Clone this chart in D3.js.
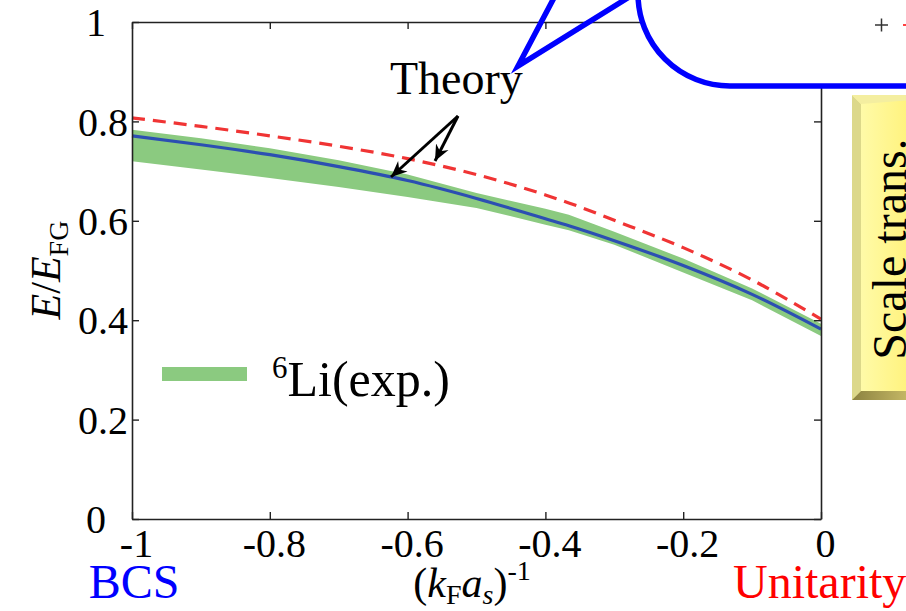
<!DOCTYPE html>
<html>
<head>
<meta charset="utf-8">
<script src="https://cdn.jsdelivr.net/npm/d3@7"></script>
<style>
  html, body { margin: 0; padding: 0; background: #fff; }
  svg { display: block; font-family: "Liberation Serif", "DejaVu Serif", serif; }
</style>
</head>
<body>
<svg id="chart" width="906" height="611"></svg>
<script>
// ---------------- data ----------------
const kInv      = [-1, -0.9, -0.8, -0.7, -0.6, -0.5, -0.4, -0.366, -0.3, -0.2, -0.1, 0];
const theory    = [0.771, 0.753, 0.733, 0.709, 0.681, 0.645, 0.604, 0.590, 0.560, 0.510, 0.452, 0.382];
const theoryAlt = [0.807, 0.790, 0.771, 0.750, 0.725, 0.693, 0.652, 0.636, 0.601, 0.546, 0.481, 0.402];
const expLower  = [0.720, 0.703, 0.686, 0.668, 0.648, 0.626, 0.592, 0.581, 0.552, 0.496, 0.440, 0.368];
const expUpper  = [0.783, 0.766, 0.746, 0.722, 0.693, 0.656, 0.624, 0.612, 0.578, 0.524, 0.464, 0.393];

const xTicks = [-1, -0.8, -0.6, -0.4, -0.2, 0];
const xTickLabels = ["-1", "-0.8", "-0.6", "-0.4", "-0.2", "0"];
const yTicks = [0, 0.2, 0.4, 0.6, 0.8, 1];
const yTickLabels = ["0", "0.2", "0.4", "0.6", "0.8", "1"];

// ---------------- layout ----------------
const svg = d3.select("#chart");
const L = 132, R = 821, T = 22, B = 519;
const x = d3.scaleLinear().domain([-1, 0]).range([L, R]);
const y = d3.scaleLinear().domain([0, 1]).range([B, T]);

// band
const pts = kInv.map((k, i) => ({k, lo: expLower[i], hi: expUpper[i], th: theory[i], alt: theoryAlt[i]}));
svg.append("path")
  .datum(pts)
  .attr("d", d3.area().x(d => x(d.k)).y0(d => y(d.lo)).y1(d => y(d.hi)))
  .attr("fill", "#8bca80");

svg.append("path")
  .datum(pts)
  .attr("d", d3.line().x(d => x(d.k)).y(d => y(d.th)).curve(d3.curveMonotoneX))
  .attr("fill", "none").attr("stroke", "#2c4fb2").attr("stroke-width", 3.2);

svg.append("path")
  .datum(pts)
  .attr("d", d3.line().x(d => x(d.k)).y(d => y(d.alt)).curve(d3.curveMonotoneX))
  .attr("fill", "none").attr("stroke", "#f03434").attr("stroke-width", 3.2)
  .attr("stroke-dasharray", "13,8");

// ---------------- axes ----------------
const tickLen = 7;
const axB = svg.append("g").attr("transform", `translate(0,${B})`)
  .call(d3.axisBottom(x).tickValues(xTicks).tickSizeInner(-tickLen).tickSizeOuter(0).tickFormat((d, i) => xTickLabels[i]));
const axT = svg.append("g").attr("transform", `translate(0,${T})`)
  .call(d3.axisTop(x).tickValues(xTicks).tickSizeInner(-tickLen).tickSizeOuter(0).tickFormat(""));
const axL = svg.append("g").attr("transform", `translate(${L},0)`)
  .call(d3.axisLeft(y).tickValues(yTicks).tickSizeInner(-tickLen).tickSizeOuter(0).tickFormat((d, i) => yTickLabels[i]));
const axR = svg.append("g").attr("transform", `translate(${R},0)`)
  .call(d3.axisRight(y).tickValues(yTicks).tickSizeInner(-tickLen).tickSizeOuter(0).tickFormat(""));

[axB, axT, axL, axR].forEach(g => {
  g.select(".domain").attr("stroke", "#222").attr("stroke-width", 1.6);
  g.selectAll(".tick line").attr("stroke", "#222").attr("stroke-width", 1.4);
  g.selectAll("text").attr("font-family", "Liberation Serif").attr("font-size", 40).attr("fill", "#000");
});
axB.selectAll(".tick text").attr("dy", "0.71em").attr("y", 10).attr("dx", 4);
axL.selectAll(".tick text")
  .attr("x", (d) => (d === 0 || d === 1) ? -26 : -4)
  .attr("dy", "0.34em");

// ---------------- labels ----------------
const yl = svg.append("text")
  .attr("transform", "translate(60,270) rotate(-90)")
  .attr("text-anchor", "middle")
  .attr("font-size", 42);
yl.append("tspan").attr("font-style", "italic").text("E");
yl.append("tspan").text("/");
yl.append("tspan").attr("font-style", "italic").text("E");
yl.append("tspan").attr("font-size", 28).attr("dy", 8).text("FG");

const xl = svg.append("text")
  .attr("x", 472).attr("y", 597)
  .attr("text-anchor", "middle")
  .attr("font-size", 42);
xl.append("tspan").text("(");
xl.append("tspan").attr("font-style", "italic").text("k");
xl.append("tspan").attr("font-size", 28).attr("dy", 7).text("F");
xl.append("tspan").attr("font-style", "italic").attr("dy", -7).text("a");
xl.append("tspan").attr("font-style", "italic").attr("font-size", 28).attr("dy", 7).text("s");
xl.append("tspan").attr("dy", -7).text(")");
xl.append("tspan").attr("font-size", 28).attr("dy", -17).text("-1");

svg.append("text").attr("x", 134).attr("y", 598).attr("text-anchor", "middle")
  .attr("font-size", 48).attr("fill", "#0000ff").text("BCS");
svg.append("text").attr("x", 733).attr("y", 598)
  .attr("font-size", 48).attr("fill", "#ff0000").text("Unitarity");

// legend
svg.append("rect").attr("x", 162).attr("y", 367).attr("width", 85).attr("height", 14).attr("fill", "#8bca80");
const lg = svg.append("text").attr("x", 272).attr("y", 396).attr("font-size", 50);
lg.append("tspan").attr("font-size", 31).attr("dy", -18).text("6");
lg.append("tspan").attr("dy", 18).text("Li(exp.)");

// Theory annotation
svg.append("text").attr("x", 390).attr("y", 94).attr("font-size", 46).text("Theory");
const defs = svg.append("defs");
defs.append("marker").attr("id", "ah").attr("viewBox", "-16 -8 18 16")
  .attr("refX", 0).attr("refY", 0).attr("markerWidth", 18).attr("markerHeight", 16)
  .attr("markerUnits", "userSpaceOnUse").attr("orient", "auto")
  .append("path").attr("d", "M0,0 L-16,-7 L-11,0 L-16,7 Z").attr("fill", "#000");
svg.append("line").attr("x1", 458).attr("y1", 116).attr("x2", 391).attr("y2", 177)
  .attr("stroke", "#000").attr("stroke-width", 3).attr("marker-end", "url(#ah)");
svg.append("line").attr("x1", 458).attr("y1", 116).attr("x2", 435).attr("y2", 161)
  .attr("stroke", "#000").attr("stroke-width", 3).attr("marker-end", "url(#ah)");

// ---------------- callout bubble (top right) ----------------
svg.append("path")
  .attr("d", "M638,-6 A92,92 0 0 0 730,86 L915,86 L915,-6 Z")
  .attr("fill", "#fff").attr("stroke", "#0000ff").attr("stroke-width", 5.5);
svg.append("path")
  .attr("d", "M556,-6 L518,66 L634,-6")
  .attr("fill", "none").attr("stroke", "#0000ff").attr("stroke-width", 5.5).attr("stroke-linejoin", "miter");
svg.append("line").attr("x1", 875).attr("y1", 25).attr("x2", 888).attr("y2", 25).attr("stroke", "#333").attr("stroke-width", 1.5);
svg.append("line").attr("x1", 881.5).attr("y1", 18.5).attr("x2", 881.5).attr("y2", 31.5).attr("stroke", "#333").attr("stroke-width", 1.5);
svg.append("line").attr("x1", 903).attr("y1", 25).attr("x2", 906).attr("y2", 25).attr("stroke", "#f00").attr("stroke-width", 1.5);

// ---------------- "Scale trans." bevel box ----------------
const g1 = defs.append("linearGradient").attr("id", "face").attr("x1", 0).attr("x2", 1).attr("y1", 0).attr("y2", 0);
g1.append("stop").attr("offset", 0).attr("stop-color", "#fffcb0");
g1.append("stop").attr("offset", 1).attr("stop-color", "#fff27a");
const g2 = defs.append("linearGradient").attr("id", "bot").attr("x1", 0).attr("x2", 1).attr("y1", 0).attr("y2", 0);
g2.append("stop").attr("offset", 0).attr("stop-color", "#8c8240");
g2.append("stop").attr("offset", 1).attr("stop-color", "#c9bc68");
const bx0 = 852, by0 = 95, bx1 = 912, by1 = 400, bev = 9;
svg.append("rect").attr("x", bx0).attr("y", by0).attr("width", bx1 - bx0).attr("height", by1 - by0).attr("fill", "url(#face)");
svg.append("path").attr("d", `M${bx0},${by0} L${bx0 + bev},${by0 + bev} L${bx0 + bev},${by1 - bev} L${bx0},${by1} Z`).attr("fill", "#dcd88a");
svg.append("path").attr("d", `M${bx0},${by0} L${bx1},${by0} L${bx1},${by0 + 5} L${bx0 + bev},${by0 + bev} Z`).attr("fill", "#f4eea0");
svg.append("path").attr("d", `M${bx0},${by1} L${bx0 + bev},${by1 - bev} L${bx1},${by1 - bev} L${bx1},${by1} Z`).attr("fill", "url(#bot)");
svg.append("text").attr("transform", "translate(906,249) rotate(-90)")
  .attr("text-anchor", "middle").attr("font-size", 48).text("Scale trans.");
</script>
</body>
</html>
